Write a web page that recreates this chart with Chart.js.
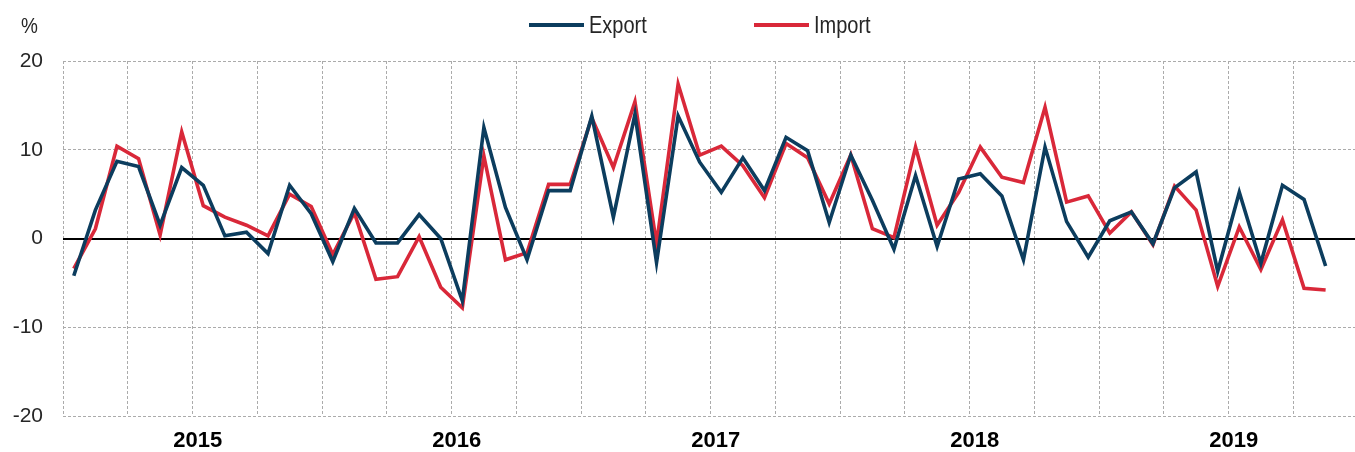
<!DOCTYPE html>
<html>
<head>
<meta charset="utf-8">
<script src="https://cdn.jsdelivr.net/npm/chart.js@4.4.1/dist/chart.umd.min.js"></script>
<style>
  body { margin: 0; overflow: hidden; background: #fff; }
  #wrap { position: relative; width: 1360px; height: 452px; }
  #unit { position: absolute; left: 21px; top: 13px; font: 19px "Liberation Sans", Arial, sans-serif; color: #262626; transform: scaleY(1.2); transform-origin: left top; }
  .leg { position: absolute; top: 13px; height: 24px; display: flex; align-items: center; font: 20px "Liberation Sans", Arial, sans-serif; color: #262626; }
  .leg i { display: inline-block; width: 55px; height: 4px; margin-right: 5px; }
  .leg span { display: inline-block; transform: scaleY(1.15); }
</style>
</head>
<body>
<div id="wrap">
  <div id="unit">%</div>
  <div id="legend"></div>
  <canvas id="stage"></canvas>
</div>
<script>
// years / months on the x axis
var years = ['2015', '2016', '2017', '2018', '2019'];
var months = ['01', '02', '03', '04', '05', '06', '07', '08', '09', '10', '11', '12'];

// export, % (Jan 2015 .. Dec 2019)
var exportData = [
  -4.2, 3.2, 8.7, 8.1, 1.5, 8.0, 6.0, 0.3, 0.7, -1.7, 6.0, 2.8,
  -2.6, 3.4, -0.5, -0.5, 2.7, 0.0, -7.0, 12.5, 3.5, -2.4, 5.4, 5.4,
  13.8, 2.4, 14.0, -2.7, 13.8, 8.6, 5.2, 9.1, 5.4, 11.4, 9.9, 1.8,
  9.4, 4.3, -1.2, 7.1, -0.9, 6.7, 7.3, 4.8, -2.4, 10.3, 1.9, -2.1,
  2.0, 3.0, -0.6, 5.7, 7.5, -3.7, 5.2, -2.8, 6.0, 4.4, -3.1, null
];

// import, %
var importData = [
  -3.4, 1.1, 10.4, 9.0, 0.4, 12.0, 3.7, 2.4, 1.5, 0.3, 5.0, 3.6,
  -1.8, 2.9, -4.6, -4.3, 0.2, -5.5, -7.8, 9.3, -2.4, -1.6, 6.1, 6.1,
  13.6, 8.0, 15.4, -0.6, 17.4, 9.4, 10.4, 8.2, 4.6, 10.7, 9.1, 3.9,
  9.4, 1.1, 0.1, 10.3, 1.5, 5.2, 10.3, 6.9, 6.3, 14.8, 4.1, 4.8,
  0.6, 3.0, -0.7, 5.9, 3.2, -5.4, 1.3, -3.5, 2.1, -5.6, -5.8, null
];

var yTicks = [-20, -10, 0, 10, 20];

var labels = [];
years.forEach(function (y) {
  months.forEach(function (m) { labels.push(y + '-' + m); });
});

var mydata = {
  labels: labels,
  datasets: [
    {
      label: 'Export',
      data: exportData,
      borderColor: '#0c3d5e',
      backgroundColor: '#0c3d5e',
      borderWidth: 3.6,
      pointRadius: 0,
      tension: 0
    },
    {
      label: 'Import',
      data: importData,
      borderColor: '#d92839',
      backgroundColor: '#d92839',
      borderWidth: 3.6,
      pointRadius: 0,
      tension: 0
    }
  ]
};

var options = {
  responsive: false,
  animation: false,
  layout: { padding: { top: 61, right: 2, left: 0, bottom: 0 } },
  plugins: {
    legend: { display: false },
    tooltip: { enabled: false }
  },
  scales: {
    x: {
      offset: true,
      grid: {
        offset: true,
        drawTicks: false,
        color: function (c) { return c.index % 3 === 0 ? '#ababab' : 'rgba(0,0,0,0)'; },
        lineWidth: 1
      },
      border: { display: false, dash: [3, 2] },
      ticks: {
        autoSkip: false,
        maxRotation: 0,
        minRotation: 0,
        padding: 12,
        labelOffset: 16,
        color: '#000',
        font: { family: "'Liberation Sans', Arial, sans-serif", size: 22, weight: 'bold' },
        callback: function (v, i) { return i % 12 === 5 ? years[Math.floor(i / 12)] : ''; }
      },
      afterFit: function (s) { s.height = 36; }
    },
    y: {
      min: -20,
      max: 20,
      afterBuildTicks: function (s) { s.ticks = yTicks.map(function (v) { return { value: v }; }); },
      grid: {
        drawTicks: false,
        color: function (c) { return c.tick && c.tick.value === 0 ? '#000' : '#ababab'; },
        lineWidth: function (c) { return c.tick && c.tick.value === 0 ? 2 : 1; }
      },
      border: {
        display: false,
        dash: function (c) { return c.tick && c.tick.value === 0 ? [] : [3, 2]; }
      },
      ticks: {
        padding: 20,
        color: '#262626',
        font: { family: "'Liberation Sans', Arial, sans-serif", size: 21 }
      },
      afterFit: function (s) { s.width = 63; }
    }
  }
};

var canvas = document.getElementById('stage');
canvas.width = 1360;
canvas.height = 452;
var chart = new Chart(canvas, {
  type: 'line',
  data: mydata,
  options: options
});

// legend as html, colours taken from the datasets
var legendLeft = [529, 754];
var legendBox = document.getElementById('legend');
chart.data.datasets.forEach(function (ds, i) {
  var item = document.createElement('div');
  item.className = 'leg';
  item.style.left = legendLeft[i] + 'px';
  var sw = document.createElement('i');
  sw.style.background = ds.borderColor;
  var tx = document.createElement('span');
  tx.textContent = ds.label;
  item.appendChild(sw);
  item.appendChild(tx);
  legendBox.appendChild(item);
});
</script>
</body>
</html>
